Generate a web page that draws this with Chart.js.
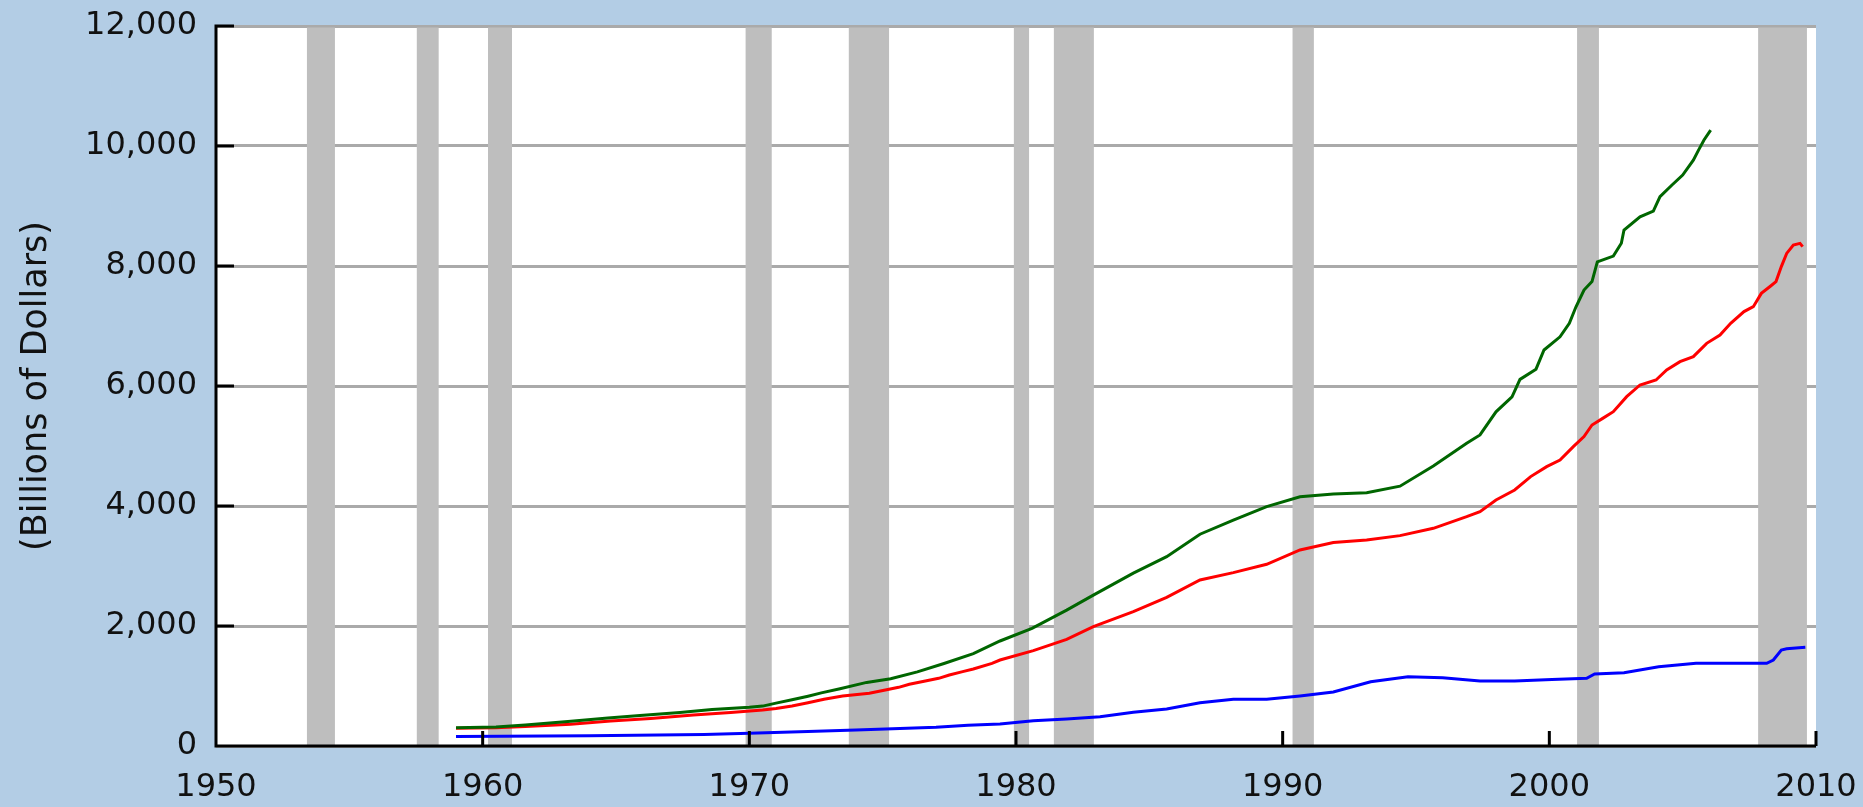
<!DOCTYPE html>
<html>
<head>
<meta charset="utf-8">
<title>Money Stock</title>
<script src="https://cdn.jsdelivr.net/npm/chart.js"></script>
<style>
    html, body { margin: 0; padding: 0; background: #b3cde5; }
    #moneyChart { display: block; }
</style>
</head>
<body>
<canvas id="moneyChart" width="1863" height="807"></canvas>
<script>
// tick labels
var xTicks = [1950, 1960, 1970, 1980, 1990, 2000, 2010];
var yTicks = [0, 2000, 4000, 6000, 8000, 10000, 12000];

// green series (ends early 2006)
var m3Years = [1959.0, 1960.5, 1961.6, 1963.2, 1964.7, 1965.9, 1967.4, 1968.6, 1970.0, 1970.5,
    1971.0, 1971.6, 1972.2, 1972.7, 1973.4, 1974.4, 1975.3, 1976.3, 1977.3, 1978.4,
    1979.4, 1980.6, 1981.9, 1982.9, 1984.4, 1985.65, 1986.9, 1988.15, 1989.4, 1990.65,
    1991.9, 1993.15, 1994.4, 1995.65, 1996.9, 1997.4, 1998.0, 1998.6, 1998.9, 1999.5,
    1999.8, 2000.4, 2000.75, 2001.0, 2001.3, 2001.6, 2001.8, 2002.4, 2002.7, 2002.8,
    2003.4, 2003.9, 2004.15, 2004.6, 2005.0, 2005.4, 2005.6, 2005.8, 2006.05];
var m3Values = [305, 318, 350, 410, 465, 510, 560, 610, 645, 665,
    715, 770, 830, 885, 955, 1060, 1120, 1235, 1375, 1540,
    1750, 1960, 2265, 2515, 2880, 3155, 3530, 3765, 3990, 4155,
    4200, 4220, 4330, 4665, 5045, 5185, 5570, 5820, 6110, 6280,
    6600, 6820, 7045, 7320, 7600, 7740, 8070, 8165, 8380, 8600,
    8820, 8915, 9155, 9350, 9515, 9765, 9935, 10100, 10265];

// red series
var m2Years = [1959.0, 1960.5, 1961.6, 1963.3, 1964.8, 1966.3, 1967.9, 1969.3, 1970.5, 1971.0,
    1971.6, 1972.2, 1972.8, 1973.5, 1974.5, 1975.1, 1975.6, 1976.0, 1976.6, 1977.1,
    1977.5, 1978.0, 1978.4, 1979.1, 1979.4, 1980.65, 1981.9, 1982.9, 1984.4, 1985.65,
    1986.9, 1988.15, 1989.4, 1990.65, 1991.9, 1993.15, 1994.4, 1995.65, 1996.9, 1997.4,
    1998.0, 1998.7, 1999.3, 1999.9, 2000.4, 2000.9, 2001.3, 2001.6, 2002.0, 2002.4,
    2002.9, 2003.4, 2004.0, 2004.4, 2004.9, 2005.4, 2005.9, 2006.4, 2006.8, 2007.3,
    2007.65, 2007.95, 2008.3, 2008.5, 2008.7, 2008.9, 2009.15, 2009.4, 2009.5];
var m2Values = [295, 305, 325, 361, 415, 460, 515, 560, 600, 625,
    667, 722, 778, 833, 878, 933, 978, 1028, 1083, 1128,
    1183, 1239, 1283, 1378, 1433, 1590, 1778, 1990, 2240, 2478,
    2767, 2890, 3028, 3267, 3390, 3433, 3506, 3628, 3822, 3906,
    4100, 4267, 4490, 4656, 4767, 4990, 5156, 5350, 5460, 5572,
    5822, 6017, 6100, 6267, 6406, 6490, 6711, 6850, 7044, 7240,
    7322, 7544, 7667, 7740, 7990, 8210, 8350, 8378, 8322];

// blue series
var m1Years = [1959.0, 1964.0, 1968.3, 1970.0, 1972.2, 1974.0, 1975.1, 1977.0, 1978.2, 1979.4,
    1980.65, 1981.9, 1983.15, 1984.4, 1985.65, 1986.9, 1988.15, 1989.4, 1990.65, 1991.9,
    1993.3, 1994.7, 1996.0, 1997.4, 1998.7, 2000.1, 2001.4, 2001.7, 2002.8, 2004.1,
    2005.5, 2006.8, 2008.15, 2008.4, 2008.7, 2008.9, 2009.6];
var m1Values = [160, 170, 190, 211, 240, 267, 285, 311, 345, 367,
    422, 450, 489, 561, 617, 722, 778, 778, 833, 900,
    1072, 1156, 1139, 1083, 1083, 1110, 1128, 1200, 1222, 1322,
    1378, 1378, 1378, 1433, 1600, 1620, 1644];

// shaded recessions
var recessionStart = [1953.41, 1957.53, 1960.2, 1969.86, 1973.73, 1979.92, 1981.42, 1990.37, 2001.04, 2007.83];
var recessionEnd   = [1954.46, 1958.35, 1961.1, 1970.84, 1975.24, 1980.49, 1982.92, 1991.17, 2001.86, 2009.66];

function toPoints(xs, ys) {
    var pts = [];
    for (var i = 0; i < xs.length; i++) {
        pts.push({ x: xs[i], y: ys[i] });
    }
    return pts;
}

var plotBackground = {
    id: 'plotBackground',
    beforeDraw: function (chart) {
        var a = chart.chartArea, ctx = chart.ctx;
        ctx.save();
        ctx.fillStyle = '#ffffff';
        ctx.fillRect(a.left, a.top, a.right - a.left, a.bottom - a.top);
        ctx.restore();
    }
};

var recessionBars = {
    id: 'recessionBars',
    beforeDatasetsDraw: function (chart) {
        var xs = chart.scales.x, a = chart.chartArea, ctx = chart.ctx;
        ctx.save();
        ctx.fillStyle = '#bebebe';
        for (var i = 0; i < recessionStart.length; i++) {
            var x0 = xs.getPixelForValue(recessionStart[i]);
            var x1 = xs.getPixelForValue(recessionEnd[i]);
            ctx.fillRect(x0, a.top + 1.5, x1 - x0, a.bottom - a.top - 1.5);
        }
        ctx.restore();
    }
};

// black axes and the short inner tick marks
var axisFrame = {
    id: 'axisFrame',
    afterDatasetsDraw: function (chart) {
        var a = chart.chartArea, ctx = chart.ctx;
        var xs = chart.scales.x, ys = chart.scales.y;
        ctx.save();
        ctx.strokeStyle = '#000000';
        ctx.lineWidth = 3;
        ctx.beginPath();
        ctx.moveTo(a.left, a.top - 1.5);
        ctx.lineTo(a.left, a.bottom);
        ctx.lineTo(a.right, a.bottom);
        yTicks.forEach(function (v) {
            var py = ys.getPixelForValue(v);
            ctx.moveTo(a.left, py);
            ctx.lineTo(a.left + 18, py);
        });
        xTicks.forEach(function (v) {
            var px = xs.getPixelForValue(v);
            ctx.moveTo(px, a.bottom);
            ctx.lineTo(px, a.bottom - 15);
        });
        ctx.stroke();
        ctx.restore();
    }
};

var labelFont = { family: 'DejaVu Sans', size: 32 };

var moneyChart = new Chart(document.getElementById('moneyChart'), {
    type: 'line',
    data: {
        datasets: [{
            label: 'M3',
            data: toPoints(m3Years, m3Values),
            borderColor: '#006600'
        }, {
            label: 'M2',
            data: toPoints(m2Years, m2Values),
            borderColor: '#ff0000'
        }, {
            label: 'M1',
            data: toPoints(m1Years, m1Values),
            borderColor: '#0000ff'
        }]
    },
    options: {
        responsive: false,
        animation: false,
        devicePixelRatio: 1,
        layout: { padding: { top: 26, right: 47, left: 0, bottom: 0 } },
        plugins: {
            legend: { display: false },
            tooltip: { enabled: false }
        },
        elements: {
            point: { radius: 0 },
            line: { borderWidth: 3, tension: 0, fill: false }
        },
        scales: {
            x: {
                type: 'linear',
                min: xTicks[0],
                max: xTicks[xTicks.length - 1],
                afterBuildTicks: function (scale) {
                    scale.ticks = xTicks.map(function (v) { return { value: v }; });
                },
                afterFit: function (scale) {
                    scale.height = 61;
                    scale.paddingLeft = 0;
                    scale.paddingRight = 0;
                },
                grid: { display: false, drawTicks: false },
                border: { display: false },
                ticks: {
                    color: '#111111',
                    font: labelFont,
                    padding: 22,
                    maxRotation: 0,
                    autoSkip: false,
                    callback: function (v) { return String(v); }
                }
            },
            y: {
                min: yTicks[0],
                max: yTicks[yTicks.length - 1],
                afterBuildTicks: function (scale) {
                    scale.ticks = yTicks.map(function (v) { return { value: v }; });
                },
                afterFit: function (scale) {
                    scale.width = 216;
                    scale.paddingTop = 0;
                    scale.paddingBottom = 0;
                },
                grid: { color: '#aaaaaa', lineWidth: 3, drawTicks: false },
                border: { display: false },
                ticks: {
                    color: '#111111',
                    font: labelFont,
                    padding: 19,
                    callback: function (v) { return v.toLocaleString('en-US'); }
                },
                title: {
                    display: true,
                    text: '(Billions of Dollars)',
                    color: '#111111',
                    font: { family: 'DejaVu Sans', size: 35 },
                    padding: { top: 16, bottom: 0 }
                }
            }
        }
    },
    plugins: [plotBackground, recessionBars, axisFrame]
});
</script>
</body>
</html>
